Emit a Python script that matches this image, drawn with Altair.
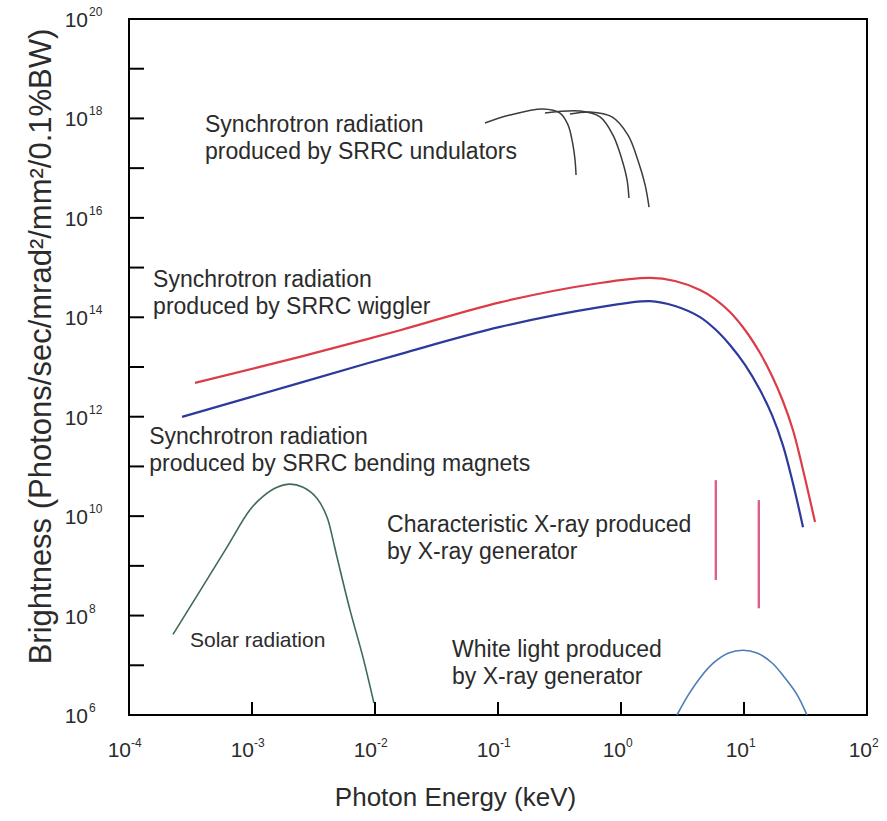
import altair as alt
import pandas as pd

# ---------------- data ----------------
# Synchrotron radiation, SRRC wiggler (red)
wig_energy = [3.44e-4, 2.45e-3, 0.016, 0.104, 0.675, 1.72, 2.75, 4.39, 5.81, 7.69, 10.2, 13.5, 16.9, 20.7, 25.0, 30.2, 37.8]
wig_bright = [4.8e12, 1.6e13, 5.5e13, 2.0e14, 4.9e14, 6.2e14, 5.36e14, 3.53e14, 2.33e14, 1.28e14, 5.55e13, 1.91e13, 6.6e12, 2.07e12, 5.4e11, 8.5e10, 7.6e9]

# Synchrotron radiation, SRRC bending magnets (blue)
bm_energy = [2.70e-4, 2.45e-3, 0.016, 0.104, 0.675, 1.72, 2.75, 4.39, 5.81, 7.69, 10.2, 13.5, 16.9, 20.7, 25.0, 30.2]
bm_bright = [9.9e11, 4.8e12, 1.82e13, 6.4e13, 1.6e14, 2.12e14, 1.69e14, 1.01e14, 5.8e13, 2.77e13, 1.10e13, 3.44e12, 1.08e12, 2.69e11, 4.6e10, 6.0e9]

# Synchrotron radiation, SRRC undulators (three harmonics)
und1_energy = [0.0784, 0.125, 0.232, 0.319, 0.371, 0.407, 0.423, 0.431]
und1_bright = [8.1e17, 1.17e18, 1.55e18, 1.28e18, 7.4e17, 2.9e17, 1.46e17, 7.3e16]
und2_energy = [0.241, 0.465, 0.675, 0.861, 1.02, 1.12, 1.16]
und2_bright = [1.28e18, 1.41e18, 1.07e18, 4.6e17, 1.46e17, 5.8e16, 2.5e16]
und3_energy = [0.385, 0.56, 0.845, 1.14, 1.37, 1.57, 1.69]
und3_bright = [1.23e18, 1.35e18, 1.07e18, 4.6e17, 1.46e17, 4.6e16, 1.65e16]

# Solar radiation
solar_energy = [2.28e-4, 6.0e-4, 9.6e-4, 1.23e-3, 1.60e-3, 2.04e-3, 2.60e-3, 3.37e-3, 4.07e-3, 4.56e-3, 4.91e-3, 6.26e-3, 7.98e-3, 9.8e-3]
solar_bright = [4.2e7, 2.0e9, 1.33e10, 2.5e10, 3.8e10, 4.4e10, 3.8e10, 2.3e10, 9.6e9, 3.3e9, 1.5e9, 1.3e8, 1.46e7, 1.74e6]

# White light produced by X-ray generator
white_energy = [2.85, 3.55, 4.47, 5.62, 7.41, 9.8, 12.9, 17.0, 21.0, 26.9, 32.5]
white_bright = [1.0e6, 2.6e6, 5.9e6, 1.1e7, 1.74e7, 2.0e7, 1.74e7, 1.1e7, 6.0e6, 2.6e6, 1.0e6]

# Characteristic X-ray lines
char_energy = [5.9, 13.2]
char_top = [5.3e10, 2.1e10]
char_bottom = [5.2e8, 1.4e8]

# Tick decades
x_tick_exp = [-3, -2, -1, 0, 1]
x_label_exp = [-4, -3, -2, -1, 0, 1, 2]
y_tick_exp = [7, 8, 9, 10, 11, 12, 13, 14, 15, 16, 17, 18, 19]
y_label_exp = [6, 8, 10, 12, 14, 16, 18, 20]

# Annotations (left edge energy, first-line baseline brightness)
ann_text = [
    "Synchrotron radiation\nproduced by SRRC undulators",
    "Synchrotron radiation\nproduced by SRRC wiggler",
    "Synchrotron radiation\nproduced by SRRC bending magnets",
    "Characteristic X-ray produced\nby X-ray generator",
    "White light produced\nby X-ray generator",
]
ann_energy = [4.15e-4, 1.57e-4, 1.46e-4, 0.01253, 0.0423]
ann_bright = [5.33e17, 4.06e14, 2.82e11, 4.79e9, 1.47e7]

solar_label = "Solar  radiation"
solar_label_energy = 3.13e-4
solar_label_bright = 2.33e7

# ---------------- chart ----------------
FONT = "Liberation Sans"
TXT = "#2b2b2b"
W, H = 738, 696
CURVE = "catmull-rom"

xs = alt.Scale(type="log", domain=[1e-4, 1e2], nice=False)
ys = alt.Scale(type="log", domain=[1e6, 1e20], nice=False)
xaxis = alt.Axis(labels=False, ticks=False, domain=False, grid=False,
                 title="Photon Energy (keV)", titleFont=FONT, titleFontSize=26,
                 titleFontWeight="normal", titleColor=TXT, titleX=326, titleY=90,
                 titleAlign="center", titleBaseline="alphabetic")
yaxis = alt.Axis(labels=False, ticks=False, domain=False, grid=False,
                 title="Brightness  (Photons/sec/mrad²/mm²/0.1%BW)", titleFont=FONT,
                 titleFontSize=31, titleFontWeight="normal", titleColor=TXT,
                 titleX=-88, titleY=327, titleAngle=270, titleAlign="center",
                 titleBaseline="middle")

X = lambda: alt.X("E:Q", scale=xs, axis=xaxis)
Y = lambda: alt.Y("B:Q", scale=ys, axis=yaxis)


def curve(name, e, b):
    return pd.DataFrame({"E": e, "B": b, "series": name})


sync_df = pd.concat([curve("wiggler", wig_energy, wig_bright),
                     curve("bending", bm_energy, bm_bright)])
und_df = pd.concat([curve("u1", und1_energy, und1_bright),
                    curve("u2", und2_energy, und2_bright),
                    curve("u3", und3_energy, und3_bright)])
solar_df = curve("solar", solar_energy, solar_bright)
white_df = curve("white", white_energy, white_bright)

sync = alt.Chart(sync_df).mark_line(interpolate=CURVE, strokeWidth=2.2).encode(
    x=X(), y=Y(), detail="series:N",
    color=alt.Color("series:N", scale=alt.Scale(domain=["wiggler", "bending"],
                                                range=["#dc3c48", "#2c3a9c"]), legend=None))
und = alt.Chart(und_df).mark_line(interpolate=CURVE, strokeWidth=1.5, color="#3c3c3c").encode(
    x=X(), y=Y(), detail="series:N")
solar = alt.Chart(solar_df).mark_line(interpolate=CURVE, strokeWidth=1.6, color="#3f6b53").encode(
    x=X(), y=Y())
white = alt.Chart(white_df).mark_line(interpolate=CURVE, strokeWidth=1.6, color="#4c7db5").encode(
    x=X(), y=Y())

char_df = pd.DataFrame({"E": char_energy, "B": char_top, "B2": char_bottom})
char = alt.Chart(char_df).mark_rule(strokeWidth=2.4, color="#dd5f8c").encode(
    x=X(), y=Y(), y2="B2:Q")

# inner ticks
xt_df = pd.DataFrame({"E": [10.0 ** k for k in x_tick_exp]})
xticks = alt.Chart(xt_df).mark_rule(strokeWidth=2, color="black").encode(
    x=X(), y=alt.value(H), y2=alt.value(H - 13))
yt_df = pd.DataFrame({"B": [10.0 ** k for k in y_tick_exp]})
yticks = alt.Chart(yt_df).mark_rule(strokeWidth=2, color="black").encode(
    y=Y(), x=alt.value(0), x2=alt.value(15))

# tick labels: "10" plus a small raised exponent
xl_df = pd.DataFrame({"E": [10.0 ** k for k in x_label_exp], "exp": [str(k) for k in x_label_exp],
                      "neg": [k < 0 for k in x_label_exp]})
xl_base = alt.Chart(xl_df)
xlab_neg = xl_base.transform_filter("datum.neg").mark_text(
    text="10", font=FONT, fontSize=21, color=TXT, align="right", baseline="alphabetic", dx=2).encode(
    x=X(), y=alt.value(H + 42))
xlab_pos = xl_base.transform_filter("!datum.neg").mark_text(
    text="10", font=FONT, fontSize=21, color=TXT, align="right", baseline="alphabetic", dx=5).encode(
    x=X(), y=alt.value(H + 42))
xexp_neg = xl_base.transform_filter("datum.neg").mark_text(
    font=FONT, fontSize=12, color=TXT, align="left", baseline="alphabetic", dx=2).encode(
    x=X(), y=alt.value(H + 32), text="exp:N")
xexp_pos = xl_base.transform_filter("!datum.neg").mark_text(
    font=FONT, fontSize=12, color=TXT, align="left", baseline="alphabetic", dx=5).encode(
    x=X(), y=alt.value(H + 32), text="exp:N")

yl_df = pd.DataFrame({"B": [10.0 ** k for k in y_label_exp], "exp": [str(k) for k in y_label_exp]})
ylab = alt.Chart(yl_df).mark_text(
    text="10", font=FONT, fontSize=21, color=TXT, align="right", baseline="alphabetic", dy=8).encode(
    y=Y(), x=alt.value(-41))
yexp = alt.Chart(yl_df).mark_text(
    font=FONT, fontSize=12, color=TXT, align="left", baseline="alphabetic", dy=-3).encode(
    y=Y(), x=alt.value(-40), text="exp:N")

ann_df = pd.DataFrame({"E": ann_energy, "B": ann_bright, "label": ann_text})
ann = alt.Chart(ann_df).mark_text(
    font=FONT, fontSize=23, color=TXT, align="left", baseline="alphabetic",
    lineBreak="\n", lineHeight=27).encode(x=X(), y=Y(), text="label:N")

solar_lab_df = pd.DataFrame({"E": [solar_label_energy], "B": [solar_label_bright], "label": [solar_label]})
solar_lab = alt.Chart(solar_lab_df).mark_text(
    font=FONT, fontSize=21, color=TXT, align="left", baseline="alphabetic").encode(
    x=X(), y=Y(), text="label:N")

chart = alt.layer(
    sync, und, solar, white, char, xticks, yticks,
    xlab_neg, xlab_pos, xexp_neg, xexp_pos, ylab, yexp, ann, solar_lab
).properties(
    width=W, height=H,
    autosize=alt.AutoSizeParams(type="none"),
    padding={"left": 129, "top": 19, "right": 20, "bottom": 106},
    background="white",
).configure_view(stroke="black", strokeWidth=2)

chart.save("out.html", embed_options={"renderer": "svg", "actions": False})
